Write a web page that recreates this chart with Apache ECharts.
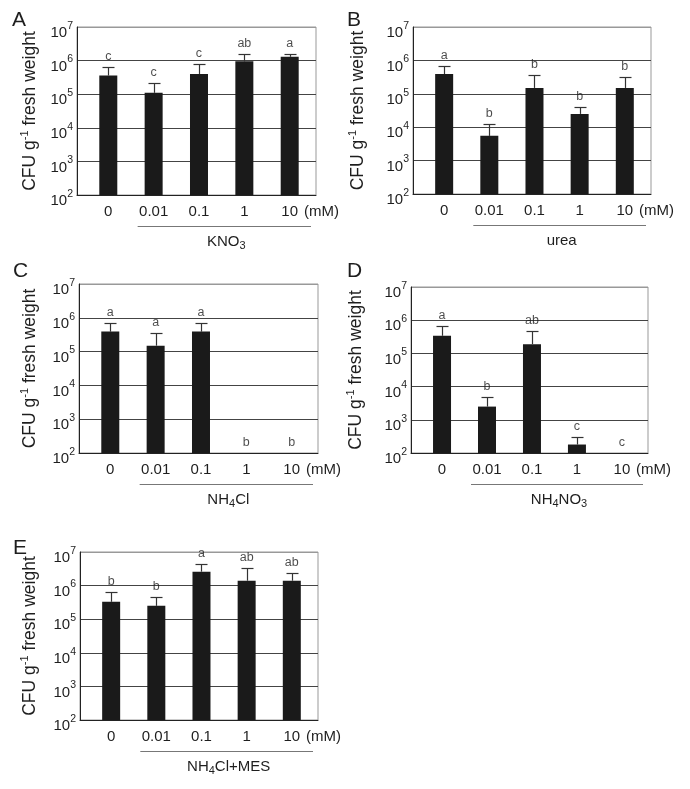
<!DOCTYPE html>
<html><head><meta charset="utf-8">
<script src="https://cdn.jsdelivr.net/npm/echarts@6/dist/echarts.min.js"></script>
<style>html,body{margin:0;padding:0;background:#fff}#c{width:690px;height:789px}</style>
</head><body><div id="c"></div>
<script>
// ---------- data ----------
const concentrations = ['0', '0.01', '0.1', '1', '10'];
const panelLetters = ['A', 'B', 'C', 'D', 'E'];
const treatments = ['KNO{sub|3}', 'urea', 'NH{sub|4}Cl', 'NH{sub|4}NO{sub|3}', 'NH{sub|4}Cl+MES'];
const yTickExponents = [2, 3, 4, 5, 6, 7];

const meanA = [3.6e5, 1.1e5, 4.0e5, 9.5e5, 1.3e6];
const errTopA = [6.3e5, 2.1e5, 8.0e5, 1.6e6, 1.6e6];
const lettersA = ['c', 'c', 'c', 'ab', 'a'];

const meanB = [3.9e5, 5.5e3, 1.5e5, 2.5e4, 1.5e5];
const errTopB = [6.7e5, 1.25e4, 3.6e5, 4.1e4, 3.1e5];
const lettersB = ['a', 'b', 'b', 'b', 'b'];

const meanC = [3.9e5, 1.5e5, 3.9e5, null, null];
const errTopC = [7.0e5, 3.5e5, 7.0e5, null, null];
const lettersC = ['a', 'a', 'a', 'b', 'b'];

const meanD = [3.4e5, 2.5e3, 1.9e5, 180, null];
const errTopD = [6.6e5, 5.0e3, 4.8e5, 300, null];
const lettersD = ['a', 'b', 'ab', 'c', 'c'];

const meanE = [3.3e5, 2.5e5, 2.6e6, 1.4e6, 1.4e6];
const errTopE = [6.5e5, 4.7e5, 4.4e6, 3.4e6, 2.4e6];
const lettersE = ['b', 'b', 'a', 'ab', 'ab'];

const means = [meanA, meanB, meanC, meanD, meanE];
const errTops = [errTopA, errTopB, errTopC, errTopD, errTopE];
const letters = [lettersA, lettersB, lettersC, lettersD, lettersE];

// ---------- layout ----------
const FONT = "'Liberation Sans', Arial, Helvetica, sans-serif";
const TXT = '#1e1e1e';
const layouts = [
  { left: 77, top: 27, width: 239, height: 168, letter: [12, 20.5], nameGap: 36 },
  { left: 413, top: 27, width: 238, height: 167, letter: [347, 20.5], nameGap: 44 },
  { left: 79, top: 284, width: 239, height: 169, letter: [13, 271.5], nameGap: 38 },
  { left: 411, top: 287, width: 237, height: 166, letter: [347, 271.5], nameGap: 44 },
  { left: 80, top: 552, width: 238, height: 168, letter: [13, 548.5], nameGap: 39 }
];
const X_MIN = -0.69, X_MAX = 4.58;

const chart = echarts.init(document.getElementById('c'), null, { renderer: 'canvas' });

const grid = [], xAxis = [], yAxis = [], series = [];
layouts.forEach((L, k) => {
  grid.push({ left: L.left, top: L.top, width: L.width, height: L.height,
    show: true, borderColor: '#999', borderWidth: 1, backgroundColor: 'transparent' });
  xAxis.push({
    gridIndex: k, type: 'value', min: X_MIN, max: X_MAX,
    axisLine: { show: true, onZero: false, lineStyle: { color: '#222', width: 1 } },
    axisTick: { show: false },
    splitLine: { show: false },
    axisLabel: {
      customValues: concentrations.map((c, i) => i),
      formatter: v => concentrations[Math.round(v)],
      fontSize: 15, fontFamily: FONT, color: TXT, margin: 9
    }
  });
  yAxis.push({
    gridIndex: k, type: 'log', logBase: 10, min: 100, max: 1e7, startValue: 100,
    axisLine: { show: true, onZero: false, lineStyle: { color: '#222', width: 1 } },
    axisTick: { show: false },
    splitLine: { show: true, lineStyle: { color: ['#444', '#444', '#444', '#444', '#444', '#999'], width: 1 } },
    minorTick: { show: false }, minorSplitLine: { show: false },
    axisLabel: {
      showMinLabel: true, showMaxLabel: true,
      margin: 4, verticalAlign: 'middle', padding: [7, 0, 0, 0],
      formatter: v => {
        const e = Math.round(Math.log10(v));
        return yTickExponents.indexOf(e) >= 0 ? '{b|10}{s|' + e + '}' : '';
      },
      rich: {
        b: { fontSize: 15, fontFamily: FONT, color: TXT, lineHeight: 20, verticalAlign: 'bottom' },
        s: { fontSize: 10.5, fontFamily: FONT, color: TXT, lineHeight: 10, verticalAlign: 'top' }
      }
    },
    name: 'CFU g{sup|-1} fresh weight',
    nameLocation: 'middle', nameGap: L.nameGap, nameRotate: 90,
    nameTextStyle: {
      fontSize: 17.5, fontFamily: FONT, color: TXT, lineHeight: 22,
      rich: { sup: { fontSize: 11, fontFamily: FONT, color: TXT, lineHeight: 11, verticalAlign: 'top' } }
    }
  });

  const m = means[k], e = errTops[k], lt = letters[k];
  series.push({
    type: 'bar', xAxisIndex: k, yAxisIndex: k, barWidth: 18, clip: true,
    itemStyle: { color: '#1a1a1a' },
    data: m.map((v, i) => [i, v == null ? '-' : v]),
    animation: false, silent: true
  });
  series.push({
    type: 'custom', xAxisIndex: k, yAxisIndex: k, clip: true,
    data: m.map((v, i) => [i, v == null ? '-' : v, e[i] == null ? '-' : e[i]]),
    encode: { x: 0, y: [1, 2] },
    renderItem: (params, api) => {
      const i = api.value(0), lo = api.value(1), hi = api.value(2);
      if (!(lo > 0) || !(hi > 0)) return null;
      const p0 = api.coord([i, lo]), p1 = api.coord([i, hi]);
      const x = Math.round(p0[0]) + 0.5, yT = Math.round(p1[1]) + 0.5;
      return {
        type: 'group', children: [
          { type: 'line', shape: { x1: x, y1: p0[1], x2: x, y2: yT }, style: { stroke: '#333', lineWidth: 1.2 } },
          { type: 'line', shape: { x1: x - 6, y1: yT, x2: x + 6, y2: yT }, style: { stroke: '#333', lineWidth: 1.2 } }
        ]
      };
    },
    animation: false, silent: true
  });
  series.push({
    type: 'scatter', xAxisIndex: k, yAxisIndex: k, symbolSize: 0, clip: false,
    data: lt.map((s, i) => [i, e[i] == null ? 100 : e[i]]),
    label: {
      show: true, position: 'top', distance: 4,
      formatter: p => lt[p.dataIndex],
      fontSize: 12.5, fontFamily: FONT, color: TXT
    },
    labelLayout: { hideOverlap: false },
    animation: false, silent: true
  });
});

chart.setOption({ animation: false, backgroundColor: '#fff', grid, xAxis, yAxis, series });

// annotations (treatment underline, subtitle, unit, panel letters)
const graphic = [];
layouts.forEach((L, k) => {
  const p1 = chart.convertToPixel({ gridIndex: k }, [1, 100]);
  const right = L.left + L.width, bottom = L.top + L.height;
  const x0 = p1[0] - 16, x1 = right - 5, yLine = bottom + 31.5;
  graphic.push({ type: 'line', silent: true,
    shape: { x1: x0, y1: yLine, x2: x1, y2: yLine }, style: { stroke: '#777', lineWidth: 1 } });
  graphic.push({ type: 'text', silent: true, x: (x0 + x1) / 2 + 2, y: yLine + 15,
    style: { text: treatments[k], fontSize: 15, fontFamily: FONT, fill: TXT, lineHeight: 20,
      align: 'center', verticalAlign: 'middle',
      rich: { sub: { fontSize: 11, fontFamily: FONT, fill: TXT, lineHeight: 10, verticalAlign: 'bottom' } } } });
  graphic.push({ type: 'text', silent: true, x: right - 12, y: bottom + 16.5,
    style: { text: '(mM)', fontSize: 15, fontFamily: FONT, fill: TXT, align: 'left', verticalAlign: 'middle' } });
  graphic.push({ type: 'text', silent: true, x: L.letter[0], y: L.letter[1],
    style: { text: panelLetters[k], fontSize: 21, fontFamily: FONT, fill: TXT, align: 'left', verticalAlign: 'middle' } });
});
chart.setOption({ graphic });
</script></body></html>
